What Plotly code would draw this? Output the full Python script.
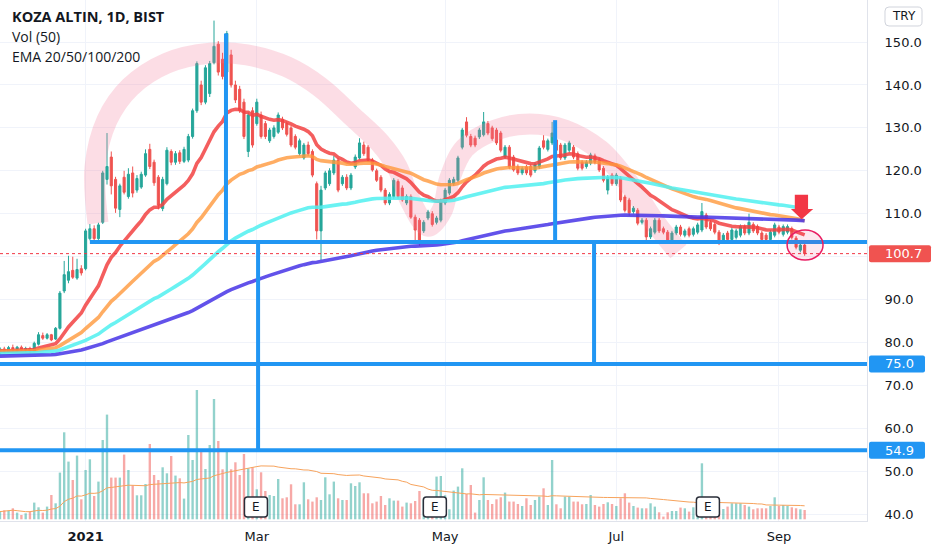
import plotly.graph_objects as go
import pandas as pd

# daily bars, Dec 2020 .. Sep 2021 (index = trading day)
OPENS = [
    77.5, 78.5, 77.8, 78.8, 78.0, 78.9, 78.3, 78.6, 78.0, 79.6,
    81.6, 81.0, 81.8, 80.8, 83.3, 92.0, 94.5, 96.8, 95.0, 97.2,
    97.2, 104.2, 106.5, 104.2, 108.0, 118.0, 123.2, 118.0, 111.0, 118.5,
    114.0, 119.5, 115.5, 116.2, 119.0, 125.0, 122.0, 118.5, 111.2, 117.0,
    124.5, 122.0, 124.2, 122.2, 122.5, 128.0, 134.0, 140.0, 136.0, 138.0,
    145.2, 149.5, 146.0, 143.0, 147.0, 140.0, 139.0, 136.0, 124.5, 134.0,
    131.0, 133.0, 131.0, 127.0, 128.0, 129.0, 132.0, 131.0, 130.0, 128.0,
    124.0, 123.0, 126.0, 124.5, 117.0, 106.0, 116.0, 117.0, 119.5, 122.5,
    117.0, 118.5, 116.0, 120.9, 123.0, 126.0, 125.5, 122.5, 120.0, 118.5,
    115.5, 112.5, 114.0, 117.5, 116.0, 112.5, 114.0, 109.2, 108.5, 106.0,
    109.0, 110.0, 108.0, 108.5, 112.5, 114.8, 117.0, 117.8, 125.5, 131.4,
    128.0, 127.6, 127.9, 128.4, 131.0, 130.0, 129.5, 128.8, 123.2, 125.5,
    123.2, 121.0, 119.5, 120.9, 121.0, 120.0, 120.9, 127.0, 125.0, 126.5,
    127.2, 126.0, 123.0, 124.8, 125.5, 124.0, 122.0, 121.0, 121.8, 123.5,
    122.5, 120.6, 115.5, 119.0, 117.0, 118.3, 113.9, 113.2, 110.5, 110.8,
    108.0, 108.5, 104.6, 105.7, 108.5, 106.5, 105.7, 103.9, 105.5, 106.9,
    105.0, 106.5, 105.2, 105.7, 106.2, 109.7, 108.0, 107.5, 105.7, 103.5,
    105.5, 104.0, 104.5, 105.0, 107.0, 105.5, 107.5, 107.0, 105.5, 105.0,
    104.0, 105.0, 106.9, 105.2, 105.7, 106.5, 104.3, 101.5, 102.7,
]
HIGHS = [
    78.9, 79.0, 79.2, 79.5, 79.2, 79.3, 79.0, 79.0, 80.2, 82.4,
    82.3, 82.2, 82.0, 83.6, 92.0, 99.0, 100.2, 100.0, 99.5, 98.0,
    106.5, 107.6, 107.3, 107.9, 120.0, 128.8, 124.5, 118.6, 117.0, 120.0,
    120.6, 121.0, 119.0, 119.8, 125.0, 126.3, 122.6, 119.0, 118.6, 125.5,
    125.0, 124.6, 124.8, 125.6, 128.6, 134.5, 145.5, 141.0, 144.6, 145.6,
    155.0, 150.2, 147.5, 152.6, 148.2, 141.0, 139.8, 136.8, 133.6, 134.8,
    136.8, 133.8, 131.6, 130.0, 130.6, 133.6, 132.6, 131.5, 130.5, 128.5,
    127.5, 126.5, 126.8, 125.0, 117.5, 116.5, 120.0, 120.6, 123.5, 123.0,
    119.0, 119.2, 119.5, 123.8, 127.6, 126.8, 126.0, 123.0, 120.5, 119.0,
    116.0, 115.0, 118.3, 118.0, 116.6, 114.5, 114.5, 109.8, 109.0, 108.5,
    110.9, 110.6, 109.5, 113.5, 116.0, 118.3, 118.6, 123.5, 130.0, 132.5,
    128.6, 128.2, 130.0, 133.7, 131.6, 130.5, 130.0, 129.3, 126.0, 126.0,
    123.7, 121.5, 121.0, 121.4, 121.5, 122.0, 125.8, 128.3, 127.5, 131.4,
    127.7, 126.5, 126.5, 127.0, 126.0, 124.5, 122.5, 122.5, 124.2, 124.0,
    123.0, 121.1, 119.0, 119.5, 119.5, 118.8, 114.4, 113.7, 111.8, 111.3,
    109.0, 109.0, 107.0, 109.0, 109.0, 107.0, 106.2, 106.0, 107.4, 107.4,
    106.5, 107.0, 107.0, 107.9, 112.5, 110.2, 108.5, 108.0, 106.2, 105.5,
    106.0, 106.7, 106.5, 107.5, 107.5, 110.0, 108.0, 107.5, 106.0, 105.5,
    106.2, 107.9, 107.4, 107.5, 107.5, 107.0, 104.8, 103.2, 103.2,
]
LOWS = [
    77.1, 77.5, 77.6, 77.9, 77.7, 78.0, 77.8, 77.6, 77.9, 79.3,
    80.6, 80.7, 80.3, 80.6, 83.0, 91.5, 93.8, 94.8, 94.6, 95.6,
    96.8, 103.8, 103.6, 103.9, 107.6, 116.8, 114.5, 110.2, 109.2, 114.5,
    113.5, 113.8, 114.9, 115.8, 118.6, 120.4, 116.5, 111.0, 110.6, 116.6,
    121.3, 121.4, 121.6, 121.8, 122.0, 127.5, 133.5, 135.3, 135.5, 137.2,
    144.8, 142.2, 141.3, 142.5, 139.4, 135.8, 133.5, 127.4, 123.2, 125.4,
    130.5, 127.5, 127.4, 126.5, 127.5, 128.6, 129.5, 128.0, 125.5, 125.0,
    123.5, 122.6, 123.5, 118.5, 104.0, 99.2, 115.5, 116.5, 119.0, 115.0,
    116.5, 115.5, 115.5, 120.4, 122.6, 123.5, 122.0, 119.8, 117.4, 115.0,
    112.0, 112.0, 113.5, 113.5, 112.8, 112.0, 108.8, 103.2, 102.5, 105.5,
    108.5, 107.0, 107.5, 108.0, 112.0, 114.3, 116.5, 117.3, 125.0, 127.8,
    125.5, 125.5, 127.4, 128.0, 128.3, 127.0, 126.0, 124.3, 122.8, 120.4,
    119.8, 119.0, 119.0, 119.0, 118.5, 119.5, 120.4, 125.0, 124.5, 126.0,
    124.3, 122.5, 122.5, 124.3, 122.7, 120.1, 120.1, 120.5, 121.3, 121.5,
    119.7, 117.3, 114.5, 116.5, 116.5, 112.7, 110.3, 109.5, 110.0, 107.3,
    107.5, 103.0, 104.1, 105.2, 105.5, 105.2, 103.4, 103.4, 105.0, 104.7,
    104.5, 104.5, 104.7, 105.2, 105.7, 106.4, 106.0, 105.2, 102.7, 103.0,
    103.5, 103.5, 104.0, 104.5, 105.0, 105.0, 105.5, 105.0, 103.5, 103.5,
    103.5, 104.5, 105.2, 104.7, 105.2, 104.0, 101.7, 101.0, 100.2,
]
CLOSES = [
    78.5, 77.8, 78.8, 78.2, 78.9, 78.3, 78.6, 78.0, 79.8, 81.8,
    81.0, 81.8, 80.6, 83.3, 91.5, 95.8, 96.5, 95.2, 97.0, 96.2,
    106.0, 106.5, 104.2, 107.4, 119.5, 121.0, 116.5, 111.3, 116.5, 115.0,
    119.2, 114.8, 118.2, 119.2, 124.0, 121.0, 117.2, 112.0, 118.0, 124.8,
    122.0, 124.0, 122.2, 125.0, 128.0, 134.0, 145.0, 136.0, 144.0, 145.0,
    149.0, 143.0, 142.0, 152.0, 140.0, 136.5, 134.0, 128.0, 133.0, 126.0,
    136.0, 128.0, 128.0, 129.5, 130.0, 133.0, 130.0, 128.5, 126.0, 125.5,
    127.0, 126.0, 124.0, 119.0, 106.0, 115.5, 119.5, 120.0, 122.5, 115.5,
    118.5, 116.0, 119.0, 123.2, 126.5, 124.0, 122.5, 120.2, 117.8, 115.5,
    112.5, 114.5, 117.8, 114.0, 113.2, 114.0, 109.2, 106.2, 103.5, 108.0,
    110.4, 107.5, 109.0, 113.0, 115.5, 117.8, 118.0, 123.0, 129.5, 128.3,
    126.0, 126.0, 129.5, 131.4, 128.8, 127.5, 126.5, 124.8, 125.5, 120.9,
    120.2, 119.5, 120.5, 119.5, 119.0, 121.5, 125.3, 125.5, 127.0, 128.8,
    124.8, 123.0, 126.0, 126.5, 123.2, 120.6, 120.6, 122.0, 123.7, 122.0,
    120.2, 117.8, 118.5, 117.0, 119.0, 113.2, 110.8, 110.2, 111.3, 107.8,
    108.5, 104.6, 106.5, 108.5, 106.0, 105.7, 103.9, 105.5, 106.9, 105.2,
    106.0, 105.0, 106.5, 107.4, 110.5, 106.9, 106.5, 105.7, 103.2, 105.0,
    104.0, 106.2, 106.0, 107.0, 105.5, 108.0, 106.0, 105.5, 104.0, 104.0,
    105.7, 107.4, 105.7, 107.0, 107.0, 104.5, 102.2, 102.7, 100.7,
]
VOLUMES = [
    7.7, 9, 8.7, 11, 6.7, 4.3, 6, 7.7, 16.7, 12,
    6.7, 12.7, 24.3, 16, 46.7, 87, 57.7, 39.3, 63.7, 20,
    49.3, 60, 23.3, 37.7, 79.3, 104.7, 41.7, 41.7, 41.7, 64.7,
    49.3, 34, 24, 24, 35.3, 75.3, 44.3, 39.3, 52, 46,
    63.3, 43.7, 41, 20.7, 84.3, 59.3, 129.3, 67.7, 50.3, 74.3,
    120.3, 78.3, 50, 68.3, 50, 57, 44.3, 65.3, 51, 52,
    30, 47, 28.3, 24.3, 23.3, 40.3, 21, 22, 35, 15,
    15, 37, 20, 17.7, 22, 19.3, 42, 25, 37.7, 21,
    19.3, 19.3, 36, 33.3, 37, 26, 26, 16, 17.7, 23.3,
    14.3, 21, 18.7, 18.7, 12.7, 16.7, 16, 18.3, 28.3, 20,
    15, 15, 42.7, 43.3, 24, 10, 28.7, 32.7, 51, 25.3,
    34.3, 6.7, 19.3, 42, 19.3, 15.3, 20, 22, 26.7, 17.7,
    17.7, 15.3, 13.3, 21, 14.3, 19.3, 22.7, 31, 14.3, 59.3,
    15, 11, 22.7, 22.7, 17.7, 17.7, 15, 15.3, 24.3, 14.3,
    12.7, 15.3, 17, 15.3, 13.3, 21, 26, 16.7, 13.3, 11.7,
    11, 11, 16, 12.7, 7, 2.7, 7, 8.3, 8.3, 11.7,
    11, 7.7, 12, 15, 56, 12, 10, 10, 9, 10.3,
    12.7, 16, 16, 16, 14.3, 12.7, 10, 11, 11, 11,
    13.3, 22, 13.3, 14.3, 13.3, 12, 11, 10, 9.3,
]
DAYS = list(range(len(CLOSES)))

MONTH_DAYS = [20, 60, 104, 144, 182]
MONTH_LABELS = ["<b>2021</b>", "Mar", "May", "Jul", "Sep"]
PRICE_TICKS = [40, 50, 60, 70, 80, 90, 100, 110, 120, 130, 140, 150]

EMA_SPANS = [20, 50, 100, 200]
EMA_SEEDS = [78.0, 77.9, 77.4, 76.8]   # values carried in from before the window
EMA_COLORS = ["rgba(242,66,66,0.85)", "rgba(255,152,60,0.8)",
              "rgba(80,240,240,0.85)", "rgba(70,52,230,0.85)"]

LAST_PRICE = 100.7
NECKLINE = 103.4
TARGETS = [75.0, 54.9]
# vertical measuring lines: (day, price reached from the neckline)
MEASURES = [(52.8, 152.0), (60.3, 54.9), (129.7, 131.8), (138.8, 75.0)]
EARNINGS_DAYS = [59.8, 101.6, 165.4]

# cup highlight drawn on the chart (day, price)
ARC_DAYS = [22.9, 22.2, 25.0, 30.4, 39.0, 49.1, 57.7, 67.1, 74.8, 82.5, 88.8, 92.8,
            95.8, 100.0, 103.3, 105.1, 108.6, 115.7, 123.8, 132.0, 140.2, 147.2,
            153.0, 158.5]
ARC_PRICES = [107.8, 120.9, 131.8, 139.5, 145.1, 147.4, 147.0, 144.2, 139.5, 132.5,
              126.5, 120.9, 113.2, 107.1, 110.8, 118.3, 125.3, 129.5, 130.9, 129.5,
              124.8, 116.7, 108.0, 101.2]

UP = "#26A69A"
DOWN = "#EF5350"
BLUE = "#2196F3"
TEXT = "#131722"
GRID = "#F0F3FA"
FONT = "DejaVu Sans"
LEGEND_FONT = "Open Sans"

X_RANGE = [0, 202.57]
PRICE_RANGE = [38.4, 159.8]
VOL_RANGE = [-1.7, 519.3]
PLOT_W, PLOT_H = 867, 521


def ema(values, span, seed):
    k = 2 / (span + 1)
    out, prev = [], seed
    for v in values:
        prev = prev + k * (v - prev)
        out.append(prev)
    return out


def px_x(day):
    return (day - X_RANGE[0]) / (X_RANGE[1] - X_RANGE[0]) * PLOT_W


def rounded_rect(x0, y0, x1, y1, r):
    """path in paper coords for a box given in pixels"""
    def p(x, y):
        return f"{x / PLOT_W:.5f},{1 - y / PLOT_H:.5f}"
    return (f"M {p(x0 + r, y0)} L {p(x1 - r, y0)} Q {p(x1, y0)} {p(x1, y0 + r)} "
            f"L {p(x1, y1 - r)} Q {p(x1, y1)} {p(x1 - r, y1)} L {p(x0 + r, y1)} "
            f"Q {p(x0, y1)} {p(x0, y1 - r)} L {p(x0, y0 + r)} Q {p(x0, y0)} {p(x0 + r, y0)} Z")


def price_py(price):
    return (PRICE_RANGE[1] - price) / (PRICE_RANGE[1] - PRICE_RANGE[0]) * PLOT_H


vol_colors = ["rgba(38,166,154,0.5)" if c >= o else "rgba(239,83,80,0.5)"
              for o, c in zip(OPENS, CLOSES)]
vol_ma = pd.Series(VOLUMES).rolling(50, min_periods=1).mean()

fig = go.Figure()

fig.add_trace(go.Scatter(x=ARC_DAYS, y=ARC_PRICES, mode="lines",
                         line=dict(color="rgba(242,120,150,0.25)", width=21, shape="spline", smoothing=1),
                         hoverinfo="skip"))

fig.add_trace(go.Candlestick(
    x=DAYS, open=OPENS, high=HIGHS, low=LOWS, close=CLOSES,
    increasing=dict(line=dict(color=UP, width=1), fillcolor=UP),
    decreasing=dict(line=dict(color=DOWN, width=1), fillcolor=DOWN),
    whiskerwidth=0, hoverinfo="skip"))

for span, seed, color in zip(EMA_SPANS, EMA_SEEDS, EMA_COLORS):
    fig.add_trace(go.Scatter(x=DAYS, y=ema(CLOSES, span, seed), mode="lines",
                             line=dict(color=color, width=3.6), hoverinfo="skip"))

fig.add_trace(go.Bar(x=DAYS, y=VOLUMES, marker=dict(color=vol_colors, line=dict(width=0)),
                     width=0.55, yaxis="y2", hoverinfo="skip"))
fig.add_trace(go.Scatter(x=DAYS, y=vol_ma, mode="lines", yaxis="y2",
                         line=dict(color="#F7A35C", width=1), hoverinfo="skip"))

shapes = []
# last price dotted line
shapes.append(dict(type="line", xref="paper", yref="y", x0=0, x1=1, y0=LAST_PRICE, y1=LAST_PRICE,
                   line=dict(color="#F23645", width=1, dash="dot"), layer="above"))
# neckline and targets
shapes.append(dict(type="line", xref="x", yref="y", x0=21.0, x1=X_RANGE[1], y0=NECKLINE, y1=NECKLINE,
                   line=dict(color=BLUE, width=4), layer="above"))
for t in TARGETS:
    shapes.append(dict(type="line", xref="paper", yref="y", x0=0, x1=1, y0=t, y1=t,
                       line=dict(color=BLUE, width=4), layer="above"))
for day, price in MEASURES:
    shapes.append(dict(type="line", xref="x", yref="y", x0=day, x1=day, y0=NECKLINE, y1=price,
                       line=dict(color=BLUE, width=4), layer="above"))

# circle around last bars and the down arrow
shapes.append(dict(type="circle", xref="x", yref="y", x0=183.9, x1=192.3, y0=99.2, y1=106.2,
                   line=dict(color="#E91E63", width=1.5), fillcolor="rgba(233,30,99,0.1)", layer="above"))
shapes.append(dict(type="path", xref="x", yref="y",
                   path="M 185.7,114.4 L 188.8,114.4 L 188.8,111.1 L 190.0,111.1 L 187.3,108.7 "
                        "L 184.8,111.1 L 185.7,111.1 Z",
                   fillcolor="#F23645", line=dict(width=0), layer="above"))

# price axis labels
for price, color, x1 in [(LAST_PRICE, "#F05350", 931), (TARGETS[0], BLUE, 925), (TARGETS[1], BLUE, 925)]:
    py = price_py(price)
    shapes.append(dict(type="path", xref="paper", yref="paper",
                       path=rounded_rect(869, py - 8.5, x1, py + 8.5, 2),
                       fillcolor=color, line=dict(width=0), layer="above"))
shapes.append(dict(type="path", xref="paper", yref="paper", path=rounded_rect(885, 7, 922, 26, 4),
                   fillcolor="white", line=dict(color="#D1D4DC", width=1), layer="above"))

# earnings markers
for day in EARNINGS_DAYS:
    cx = px_x(day)
    shapes.append(dict(type="path", xref="paper", yref="paper",
                       path=rounded_rect(cx - 11.5, 497, cx + 11.5, 517, 3),
                       fillcolor="white", line=dict(color="#2A2E39", width=1.5), layer="above"))

annotations = []
for price in [LAST_PRICE] + TARGETS:
    annotations.append(dict(x=883 / PLOT_W, xref="paper", y=price, yref="y", text=f"{price:.1f}",
                            xanchor="left", yanchor="middle", showarrow=False,
                            font=dict(family=FONT, size=13, color="white")))
annotations.append(dict(x=903.5 / PLOT_W, xref="paper", y=1 - 16.5 / PLOT_H, yref="paper", text="TRY",
                        xanchor="center", yanchor="middle", showarrow=False,
                        font=dict(family=FONT, size=12, color=TEXT)))
for day in EARNINGS_DAYS:
    annotations.append(dict(x=day, xref="x", y=1 - 507 / PLOT_H, yref="paper", text="E",
                            xanchor="center", yanchor="middle", showarrow=False,
                            font=dict(family=FONT, size=12, color=TEXT)))
for text, py, size in [("<b>KOZA ALTIN, 1D, BIST</b>", 16.5, 14.5), ("Vol (50)", 36.8, 14),
                       ("EMA 20/50/100/200", 56.5, 14)]:
    annotations.append(dict(x=10 / PLOT_W, xref="paper", y=1 - py / PLOT_H, yref="paper", text=text,
                            xanchor="left", yanchor="middle", showarrow=False,
                            font=dict(family=LEGEND_FONT, size=size, color=TEXT)))

fig.update_layout(
    width=932, height=550,
    margin=dict(l=0, r=932 - PLOT_W, t=0, b=550 - PLOT_H),
    paper_bgcolor="white", plot_bgcolor="white",
    showlegend=False,
    shapes=shapes, annotations=annotations,
    font=dict(family=FONT, size=13, color=TEXT),
    xaxis=dict(range=X_RANGE, tickvals=MONTH_DAYS, ticktext=MONTH_LABELS, showgrid=True,
               gridcolor=GRID, zeroline=False, showline=True, linecolor="#E0E3EB",
               rangeslider=dict(visible=False), ticks="", ticklabelstandoff=3,
               tickfont=dict(size=13, color=TEXT)),
    yaxis=dict(range=PRICE_RANGE, side="right", tickvals=PRICE_TICKS,
               ticktext=["" if p == 100 else f"{p:.1f}" for p in PRICE_TICKS],
               showgrid=True, gridcolor=GRID, zeroline=False, showline=True, linecolor="#E0E3EB",
               ticks="", ticklabelstandoff=14, tickfont=dict(size=13, color=TEXT)),
    yaxis2=dict(range=VOL_RANGE, overlaying="y", visible=False),
)

# the page's default 8px body margin would push the chart off its frame
fig.write_html("out.html", config={"displayModeBar": False},
               post_script="document.body.style.margin='0';")
